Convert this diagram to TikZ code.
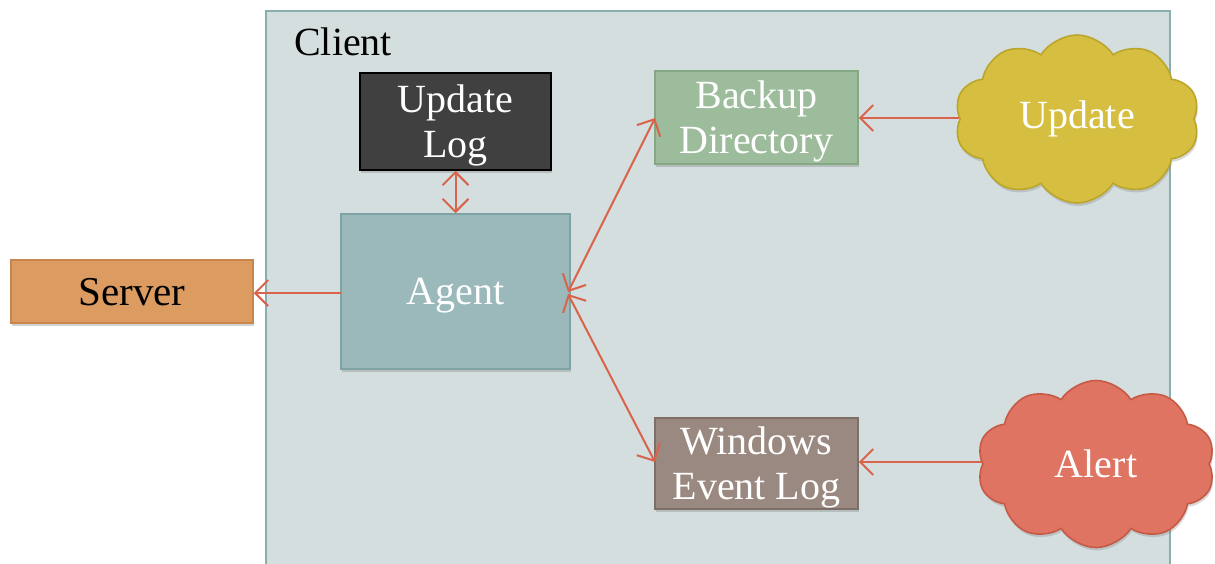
\documentclass[tikz,border=0pt]{standalone}
\usepackage{fontspec}
\setmainfont{Liberation Serif}
\usetikzlibrary{arrows.meta,shapes.symbols,shadows}
\definecolor{clientfill}{HTML}{D4DEDF}
\definecolor{clientdraw}{HTML}{89AEAE}
\definecolor{logfill}{HTML}{404040}
\definecolor{agentfill}{HTML}{9BB8BA}
\definecolor{agentdraw}{HTML}{7FA3A5}
\definecolor{backfill}{HTML}{9CBC9C}
\definecolor{backdraw}{HTML}{84A884}
\definecolor{winfill}{HTML}{9A8980}
\definecolor{windraw}{HTML}{7D6E67}
\definecolor{servfill}{HTML}{DB9B61}
\definecolor{servdraw}{HTML}{C8864E}
\definecolor{updfill}{HTML}{D6BF40}
\definecolor{upddraw}{HTML}{BBA62B}
\definecolor{alertfill}{HTML}{DE7461}
\definecolor{alertdraw}{HTML}{C65A45}
\definecolor{arrowc}{HTML}{D9634B}
\tikzset{
  box/.style={rectangle, line width=1.5pt, inner sep=0pt, align=center,
    font=\fontsize{40}{45}\selectfont, text=white, text depth=0pt,
    drop shadow={opacity=0.35, shadow xshift=1pt, shadow yshift=-3pt}},
  puff/.style={cloud, cloud puffs=10, cloud puff arc=115, cloud ignores aspect,
    line width=1.6pt, inner sep=0pt, align=center,
    font=\fontsize{40}{45}\selectfont, text=white,
    drop shadow={opacity=0.3, shadow xshift=1pt, shadow yshift=-3pt}},
  barb/.tip={Straight Barb[length=13pt,width=26pt]},
  conn/.style={draw=arrowc, line width=2pt, -barb},
  conn2/.style={draw=arrowc, line width=2pt, barb-barb}
}
\begin{document}
\begin{tikzpicture}[x=1pt,y=-1pt]
\useasboundingbox (0,0) rectangle (1215,563);
\clip (0,0) rectangle (1215,563);
\fill[white] (0,0) rectangle (1215,563);
% client area
\draw[fill=clientfill, draw=clientdraw, line width=1.5pt] (266,11) rectangle (1170,600);
\node[anchor=base west, inner sep=0pt, font=\fontsize{40}{45}\selectfont] (client) at (294,55) {Client};
% nodes
\node[box, fill=logfill, draw=black, minimum width=191pt, minimum height=97pt] (log) at (455.5,121.5) {Update\\Log};
\node[box, fill=agentfill, draw=agentdraw, minimum width=229pt, minimum height=155pt] (agent) at (455.5,291.5) {Agent};
\node[box, fill=backfill, draw=backdraw, minimum width=203pt, minimum height=93pt] (backup) at (756.5,117.5) {Backup\\Directory};
\node[box, fill=winfill, draw=windraw, minimum width=203pt, minimum height=91pt] (win) at (756.5,463.5) {Windows\\Event Log};
\node[box, fill=servfill, draw=servdraw, text=black, font=\fontsize{41}{45}\selectfont, minimum width=242pt, minimum height=63pt] (server) at (132,291.5) {Server};
\node[puff, fill=updfill, draw=upddraw, minimum width=245pt, minimum height=168pt] (upd) at (1077,119) {Update};
\node[puff, fill=alertfill, draw=alertdraw, minimum width=238pt, minimum height=167pt] (alert) at (1096,464) {Alert};
% connectors
\coordinate (agL) at (341,293);
\coordinate (agR1) at (568,292);
\coordinate (agR2) at (568,294);
\coordinate (bkL) at (655,118);
\coordinate (wnL) at (655,462);
\draw[conn] (agL) -- (server.east |- agL);
\draw[conn2] (log.south) -- (agent.north);
\draw[conn2] (agR1) -- (bkL);
\draw[conn2] (agR2) -- (wnL);
\draw[conn] (upd.west |- bkL) -- (backup.east |- bkL);
\draw[conn] (alert.west |- wnL) -- (win.east |- wnL);
\end{tikzpicture}
\end{document}
